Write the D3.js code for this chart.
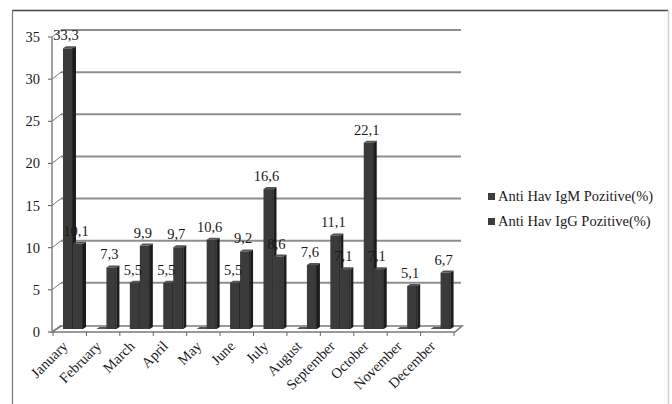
<!DOCTYPE html>
<html><head><meta charset="utf-8">
<script src="https://cdn.jsdelivr.net/npm/d3@7"></script>
<style>html,body{margin:0;padding:0;background:#fff;}svg{display:block;}</style>
</head><body>
<svg id="c" width="672" height="404"></svg>
<script>
const months = ["January","February","March","April","May","June","July","August","September","October","November","December"];
const igm = [33.3, 0, 5.5, 5.5, 0, 5.5, 16.6, 0, 11.1, 22.1, 0, 0];
const igg = [10.1, 7.3, 9.9, 9.7, 10.6, 9.2, 8.6, 7.6, 7.1, 7.1, 5.1, 6.7];
const seriesNames = ["Anti Hav IgM Pozitive(%)", "Anti Hav IgG Pozitive(%)"];
const yTicks = [0,5,10,15,20,25,30,35];

const svg = d3.select("#c");
const font = "'Liberation Serif','Times New Roman',serif";
const txt = "#1a1a1a";

// outer frame
svg.append("line").attr("x1",12).attr("x2",668).attr("y1",10.5).attr("y2",10.5).attr("stroke","#444").attr("stroke-width",1.5);
svg.append("line").attr("x1",12.5).attr("x2",12.5).attr("y1",10).attr("y2",404).attr("stroke","#777").attr("stroke-width",1.2);
svg.append("line").attr("x1",668.5).attr("x2",668.5).attr("y1",10).attr("y2",404).attr("stroke","#d0d0d0").attr("stroke-width",1.5);

const x = d3.scaleBand().domain(months).range([53, 454]).paddingInner(0).paddingOuter(0);
const y = d3.scaleLinear().domain([0,35]).range([332, 37]);
const DX = 9, DY = -7;      // depth offset of back wall
const axisX = 52;

const g = svg.append("g");
yTicks.forEach(t => {
  if (t > 0) {
    g.append("line").attr("x1", axisX+DX).attr("x2", 461).attr("y1", y(t)+DY).attr("y2", y(t)+DY)
      .attr("stroke","#8e8e8e").attr("stroke-width",2);
  }
  g.append("line").attr("x1", axisX).attr("x2", axisX+DX).attr("y1", y(t)).attr("y2", y(t)+DY)
    .attr("stroke","#777").attr("stroke-width",1);
  g.append("line").attr("x1", axisX-4).attr("x2", axisX).attr("y1", y(t)).attr("y2", y(t))
    .attr("stroke","#555").attr("stroke-width",1);
  g.append("text").attr("x", 40).attr("y", y(t)+5).attr("text-anchor","end")
    .attr("font-family",font).attr("font-size",14.5).attr("fill",txt).text(t);
});

// floor
const fl = [[axisX, y(0)], [455, y(0)], [455+DX-2, y(0)+DY+1], [axisX+DX, y(0)+DY+1]];
g.append("path").attr("d", d3.line()(fl)+"Z").attr("fill","#fff").attr("stroke","#7a7a7a").attr("stroke-width",1.6);

// front y axis
g.append("line").attr("x1",axisX).attr("x2",axisX).attr("y1",y(35)).attr("y2",y(0)).attr("stroke","#808080").attr("stroke-width",1.5);

// category ticks
months.forEach(m => {
  const xx = x(m);
  g.append("line").attr("x1", xx).attr("x2", xx).attr("y1", y(0)).attr("y2", y(0)+4).attr("stroke","#666");
});
g.append("line").attr("x1", x.range()[1]).attr("x2", x.range()[1]).attr("y1", y(0)).attr("y2", y(0)+4).attr("stroke","#666");

// bars
const BW = 10, SD = 3, TD = 2, BY = -3;
function bar(xl, v) {
  const yb = y(0) + BY, yt = y(v) + BY;
  const bg = svg.append("g");
  bg.append("path").attr("d", d3.line()([[xl+BW,yt],[xl+BW+SD,yt-TD],[xl+BW+SD,yb-TD],[xl+BW,yb]])+"Z").attr("fill","#1c1c1c");
  bg.append("path").attr("d", d3.line()([[xl,yt],[xl+BW,yt],[xl+BW+SD,yt-TD],[xl+SD,yt-TD]])+"Z").attr("fill","#555");
  bg.append("rect").attr("x",xl).attr("y",yt).attr("width",BW).attr("height",Math.max(0,yb-yt)).attr("fill","#3b3b3b");
  bg.append("line").attr("x1",xl+BW-0.5).attr("x2",xl+BW-0.5).attr("y1",yt).attr("y2",yb).attr("stroke","#282828").attr("stroke-width",1);
}
months.forEach((m,i) => {
  bar(x(m)+10, igm[i]);
  bar(x(m)+20, igg[i]);
});

// data labels
function label(cx, v) {
  if (v === 0) return;
  svg.append("text").attr("x", cx).attr("y", y(v)+BY-8).attr("text-anchor","middle")
    .attr("font-family",font).attr("font-size",14.5).attr("fill",txt)
    .text(d3.format(".1f")(v).replace(".", ","));
}
months.forEach((m,i) => {
  label(x(m)+10+BW/2-2, igm[i]);
  label(x(m)+20+BW/2-2, igg[i]);
});

// month labels
months.forEach(m => {
  const cx = x(m) + x.bandwidth()/2;
  svg.append("text").attr("transform", `translate(${cx-1},${347}) rotate(-45)`)
    .attr("text-anchor","end").attr("font-family",font).attr("font-size",14.5).attr("fill",txt).text(m);
});

// legend
seriesNames.forEach((s,i) => {
  const ly = 197 + i*25;
  svg.append("rect").attr("x",488).attr("y",ly-4).attr("width",7).attr("height",7).attr("fill","#3b3b3b");
  svg.append("text").attr("x",498).attr("y",ly+4).attr("font-family",font).attr("font-size",14.5).attr("fill",txt).text(s);
});
</script>
</body></html>
